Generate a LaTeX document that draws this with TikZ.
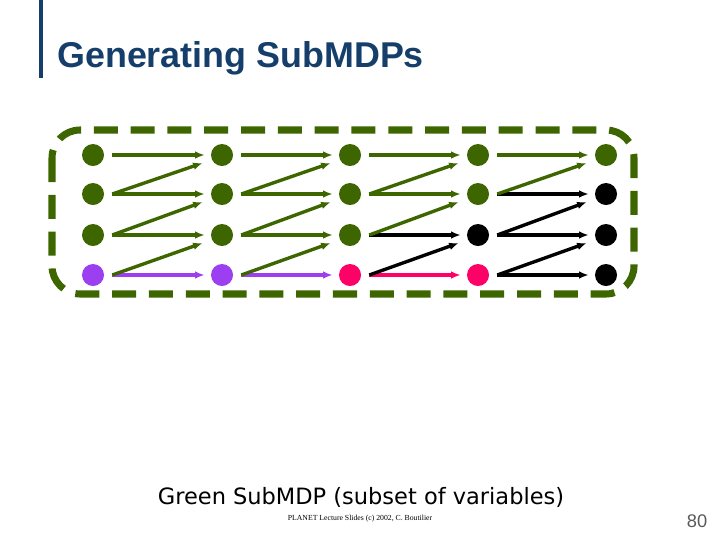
\documentclass[tikz,border=0pt]{standalone}
\usepackage{fontspec}
\setmainfont{Liberation Sans}
\newfontfamily\capfont{DejaVu Sans}
\newfontfamily\footfont{Liberation Serif}
\usetikzlibrary{arrows.meta,calc,positioning}
\definecolor{sgreen}{HTML}{3D6600}
\definecolor{spurple}{HTML}{9B3FF0}
\definecolor{sred}{HTML}{FF0066}
\definecolor{stitle}{HTML}{153E6A}
\tikzset{
	var/.style={circle,fill=#1,inner sep=0pt,minimum size=0.55cm},
	dep/.style={draw=#1,line width=2.4pt,-{Latex[length=2.4mm,width=1.9mm]}},
}
\begin{document}
\begin{tikzpicture}[x=0.025cm,y=-0.025cm]
				\useasboundingbox (0,0) rectangle (720,540);
				\draw[stitle,line width=3pt] (41,0) -- (41,78);
				\node (title) at (57,58) [anchor=west,inner sep=0pt,text=stitle,font=\fontsize{25.5}{30}\selectfont\bfseries] {Generating SubMDPs};
				\draw[sgreen,line width=5pt,dash pattern=on 0.6cm off 0.32cm,rounded corners=0.7cm] (52,130) rectangle (634,294);
				% variables: column x, colours per row
				\foreach \c/\x/\ca/\cb/\cc/\cd in {0/93/sgreen/sgreen/sgreen/spurple,1/222/sgreen/sgreen/sgreen/spurple,2/350/sgreen/sgreen/sgreen/sred,3/478/sgreen/sgreen/black/sred,4/606/sgreen/black/black/black}{
					\node (v\c0) at (\x,155) [var=\ca] {};
					\node (v\c1) at (\x,194) [var=\cb] {};
					\node (v\c2) at (\x,235) [var=\cc] {};
					\node (v\c3) at (\x,275) [var=\cd] {};
				}
				% dependencies: straight colours, then diagonal colours
				\foreach \c/\n/\ha/\hb/\hc/\hd/\da/\db/\dc in {0/1/sgreen/sgreen/sgreen/spurple/sgreen/sgreen/sgreen,1/2/sgreen/sgreen/sgreen/spurple/sgreen/sgreen/sgreen,2/3/sgreen/sgreen/black/sred/sgreen/sgreen/black,3/4/sgreen/black/black/black/sgreen/black/black}{
					\draw[dep=\ha] ($(v\c0.east)+(8,0)$) -- ($(v\n0.west)+(-6,0)$);
					\draw[dep=\hb] ($(v\c1.east)+(8,0)$) -- ($(v\n1.west)+(-6,0)$);
					\draw[dep=\hc] ($(v\c2.east)+(8,0)$) -- ($(v\n2.west)+(-6,0)$);
					\draw[dep=\hd] ($(v\c3.east)+(8,0)$) -- ($(v\n3.west)+(-6,0)$);
					\draw[dep=\da] ($(v\c1.east)+(8,0)$) -- ($(v\n0.west)+(-8,8)$);
					\draw[dep=\db] ($(v\c2.east)+(8,0)$) -- ($(v\n1.west)+(-8,8)$);
					\draw[dep=\dc] ($(v\c3.east)+(8,0)$) -- ($(v\n2.west)+(-8,8)$);
				}
				\node (caption) at (361,497) [font=\capfont\fontsize{16}{19}\selectfont] {Green SubMDP (subset of variables)};
				\node (foot) at (360,519) [font=\footfont\fontsize{5.5}{6}\selectfont] {PLANET Lecture Slides (c) 2002, C. Boutilier};
				\node (page) at (697,521) [text=black!65,font=\fontsize{13}{15}\selectfont] {80};
\end{tikzpicture}
\end{document}
